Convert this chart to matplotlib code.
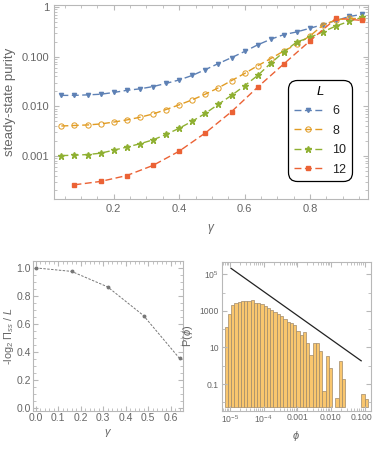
import numpy as np
import matplotlib
matplotlib.use("Agg")
import matplotlib.pyplot as plt
from matplotlib.ticker import FixedLocator, NullFormatter, LogLocator
from matplotlib.transforms import ScaledTranslation

plt.rcParams['font.family'] = ['Liberation Sans', 'DejaVu Sans']
plt.rcParams['mathtext.fontset'] = 'custom'
plt.rcParams['mathtext.rm'] = 'Liberation Sans'
plt.rcParams['mathtext.it'] = 'Liberation Sans:italic'

TXT = '#666666'
FRAME = '#b8b8b8'

# ---- top panel: steady-state purity vs gamma
gamma = [0.04, 0.08, 0.12, 0.16, 0.20, 0.24, 0.28, 0.32, 0.36, 0.40, 0.44, 0.48,
         0.52, 0.56, 0.60, 0.64, 0.68, 0.72, 0.76, 0.80, 0.84, 0.88, 0.92, 0.96]
purity_L6 = [0.0166, 0.0166, 0.017, 0.0175, 0.019, 0.021, 0.0225, 0.025, 0.029, 0.034, 0.042, 0.055,
             0.073, 0.096, 0.128, 0.174, 0.226, 0.28, 0.318, 0.377, 0.447, 0.54, 0.65, 0.72]
purity_L8 = [0.0040, 0.0041, 0.0042, 0.0044, 0.0048, 0.0053, 0.006, 0.007, 0.0086, 0.0107, 0.0135, 0.0176,
             0.0236, 0.033, 0.046, 0.066, 0.092, 0.131, 0.179, 0.264, 0.44, 0.555, 0.6, 0.58]
purity_L10 = [0.00101, 0.00103, 0.00106, 0.00113, 0.0013, 0.0015, 0.00175, 0.0021, 0.0027, 0.0036, 0.005, 0.0072,
              0.011, 0.0166, 0.026, 0.042, 0.074, 0.126, 0.2, 0.245, 0.32, 0.42, 0.52, 0.63]
gamma_L12 = [0.08, 0.16, 0.24, 0.32, 0.40, 0.48, 0.56, 0.64, 0.72, 0.80, 0.88, 0.96]
purity_L12 = [0.00026, 0.000304, 0.0004, 0.00064, 0.00124, 0.0029, 0.0078, 0.0244, 0.072, 0.21, 0.6, 0.54]

# ---- bottom left: -log2(Pi_ss)/L vs gamma
gamma_fit = [0.0, 0.16, 0.32, 0.48, 0.64]
rate = [1.0, 0.975, 0.865, 0.66, 0.355]

# ---- bottom right: histogram of phi (log bins) and power-law guide
phi_edges_log = np.linspace(-5.16, -0.90, 45)
phi_density = [126, 670, 2090, 2790, 3160, 3470, 3470, 3470, 3930, 2790, 2590, 2370,
               1910, 1380, 1110, 900, 670, 523, 346, 237, 230, 168,
               82, 48, 72, 18, 3.8, 17, 17, 6.6, 0.043, 3.4, 0.78, 0,
               0.0165, 1.8, 0.18, 0, 0, 0, 0, 0, 0.027, 0.0145]
guide_x = [10**-4.97, 10**-1.10]
guide_y = [10**5.33, 10**0.27]

colors = ['#5e81b5', '#e19c24', '#8fb032', '#eb6235']

fig = plt.figure(figsize=(3.74, 4.49), dpi=100)


def style_frame(ax, size=7.5, pad=3.5):
    for s in ax.spines.values():
        s.set_color(FRAME)
        s.set_linewidth(0.8)
    ax.tick_params(which='both', direction='in', top=True, right=True,
                   colors=FRAME, labelcolor=TXT, labelsize=size, pad=pad)
    ax.tick_params(which='major', length=3.5)
    ax.tick_params(which='minor', length=2)


# top
ax = fig.add_axes([0.144, 0.557, 0.840, 0.432])
dash = (5, 2.5)
lw = 1.0
ax.plot(gamma, purity_L6, ls='--', dashes=dash, color=colors[0], marker='v', ms=3.0, lw=lw, label='6')
ax.plot(gamma, purity_L8, ls='--', dashes=dash, color=colors[1], marker='o', ms=3.8, mfc='none', mew=0.7, lw=lw, label='8')
ax.plot(gamma, purity_L10, ls='--', dashes=dash, color=colors[2], marker='*', ms=4.6, lw=lw, label='10')
ax.plot(gamma_L12, purity_L12, ls='--', dashes=dash, color=colors[3], marker='s', ms=2.3, lw=lw, label='12')
ax.set_yscale('log')
ax.set_xlim(0.017, 0.977)
ax.set_ylim(10**-3.87, 10**0.046)
ax.set_yticks([0.001, 0.01, 0.1, 1])
ax.set_yticklabels(['0.001', '0.010', '0.100', '1'])
ax.yaxis.set_minor_locator(LogLocator(base=10, subs=np.arange(2, 10)))
ax.yaxis.set_minor_formatter(NullFormatter())
ax.set_xticks([0.2, 0.4, 0.6, 0.8])
ax.set_xticks(np.arange(0.05, 0.97, 0.05), minor=True)
style_frame(ax, 8)
ax.set_ylabel('steady-state purity', color=TXT, fontsize=9.5)
ax.yaxis.set_label_coords(-0.122, 0.5)
ax.set_xlabel(r'$\gamma$', color=TXT, fontsize=8.5, labelpad=6)
leg = ax.legend(title='L', loc='upper left', bbox_to_anchor=(0.770, 0.822),
                bbox_transform=fig.transFigure, borderaxespad=0, fontsize=9,
                handlelength=2.3, handletextpad=0.8, borderpad=0.45, labelspacing=0.6,
                fancybox=True, framealpha=1, edgecolor='black')
leg.get_title().set_fontstyle('italic')
leg.get_title().set_fontsize(9.5)
leg.get_frame().set_linewidth(0.9)
leg.get_frame().set_boxstyle('round', pad=0, rounding_size=0.7)
for t in leg.get_texts():
    t.set_color('#222222')

# bottom left
ax2 = fig.add_axes([0.088, 0.0846, 0.401, 0.3344])
ax2.plot(gamma_fit, rate, ls='--', dashes=(2.5, 1.5), color='#777777', lw=0.7,
         marker='o', ms=1.8)
ax2.set_xlim(-0.012, 0.655)
ax2.set_ylim(-0.02, 1.05)
ax2.set_xticks([0.0, 0.1, 0.2, 0.3, 0.4, 0.5, 0.6])
ax2.set_xticks(np.arange(0, 0.66, 0.02), minor=True)
ax2.set_yticks([0.0, 0.2, 0.4, 0.6, 0.8, 1.0])
ax2.set_yticks(np.arange(0, 1.05, 0.05), minor=True)
style_frame(ax2, 7.5, 1.5)
ax2.set_ylabel(r'-log$_2$ $\Pi_{ss}$ / $L$', color=TXT, fontsize=7.8)
ax2.yaxis.set_label_coords(-0.112, 0.5)
ax2.set_xlabel(r'$\gamma$', color=TXT, fontsize=8, labelpad=3)

# bottom right
ax3 = fig.add_axes([0.593, 0.0853, 0.399, 0.3317])
edges = 10 ** phi_edges_log
bar_base = 10 ** -2.24
heights = np.array(phi_density, dtype=float)
mask = heights > 0
ax3.bar(edges[:-1][mask], heights[mask] - bar_base, width=np.diff(edges)[mask], bottom=bar_base,
        align='edge', color='#f9c66e', edgecolor='#a08a6a', linewidth=0.5)
ax3.plot(guide_x, guide_y, color='#222222', lw=0.9)
ax3.set_xscale('log')
ax3.set_yscale('log')
ax3.set_xlim(10**-5.245, 10**-0.808)
ax3.set_ylim(10**-2.46, 10**5.69)
ax3.xaxis.set_major_locator(FixedLocator([1e-5, 1e-4, 1e-3, 1e-2, 1e-1]))
ax3.set_xticklabels(['$10^{-5}$', '$10^{-4}$', '0.001', '0.010', '0.100'])
ax3.xaxis.set_minor_locator(LogLocator(base=10, subs=np.arange(2, 10)))
ax3.xaxis.set_minor_formatter(NullFormatter())
ax3.yaxis.set_major_locator(FixedLocator([1e-1, 1e1, 1e3, 1e5]))
ax3.set_yticklabels(['0.1', '10', '1000', '$10^5$'])
ax3.yaxis.set_minor_locator(FixedLocator([1e-2, 1, 1e2, 1e4]))
ax3.yaxis.set_minor_formatter(NullFormatter())
style_frame(ax3, 6.2, 2)
last = ax3.get_xticklabels()[-1]
last.set_transform(last.get_transform() + ScaledTranslation(-2.5 / 72, 0, fig.dpi_scale_trans))
ax3.set_ylabel(r'P($\phi$)', color=TXT, fontsize=8)
ax3.yaxis.set_label_coords(-0.179, 0.5)
ax3.set_xlabel(r'$\phi$', color=TXT, fontsize=8, labelpad=3)

fig.savefig('out.png', dpi=100)
